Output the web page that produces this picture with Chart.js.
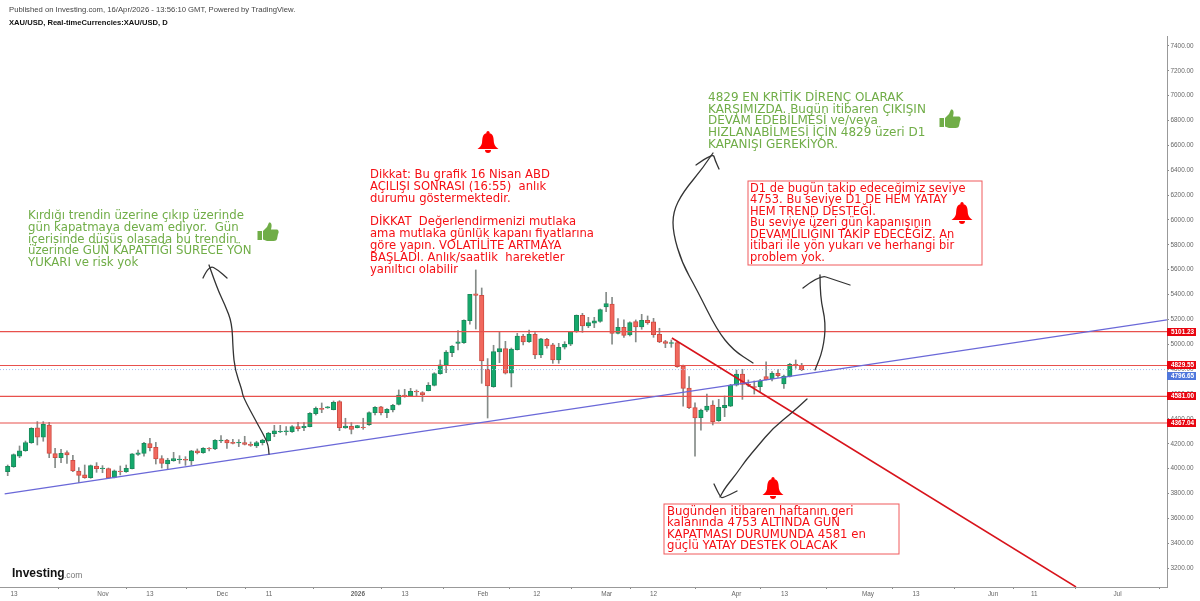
<!DOCTYPE html>
<html>
<head>
<meta charset="utf-8">
<title>XAU/USD</title>
<script src="https://cdn.jsdelivr.net/npm/chart.js@4"></script>
<style>
  html, body { margin: 0; padding: 0; background: #fff; }
  canvas { display: block; }
</style>
</head>
<body>
<canvas id="myChart" width="1200" height="601"></canvas>
<script>
// daily candles
var opens = [3975,4016,4101,4144,4209,4329,4252,4351,4120,4088,4128,4067,3981,3949,3927,4021,4000,4000,3930,3981,3975,4000,4115,4123,4201,4171,4080,4037,4064,4072,4075,4061,4142,4128,4163,4158,4222,4230,4211,4206,4209,4195,4182,4209,4225,4281,4295,4297,4297,4338,
  4330,4338,4442,4485,4488,4474,4539,4327,4340,4330,4335,4354,4450,4496,4450,4472,4517,4592,4587,4622,4611,4627,4670,4764,
  4831,4933,5008,5013,5190,5405,5394,4799,4659,4938,4965,4767,4957,5067,5021,5080,4914,5040,4995,4874,4976,5000,5102,5233,5147,5169,5185,5300,5324,5088,5137,5075,5182,5139,5193,5180,5080,5021,5008,5013,
  4825,4648,4490,4410,4471,4512,4386,4490,4503,4672,4761,4678,4659,4659,4740,4723,4766,4681,4742,4839,4831];
var highs = [4029,4118,4182,4222,4329,4378,4378,4372,4163,4155,4142,4107,4008,4029,4029,4048,4024,4005,3989,4021,4029,4120,4150,4211,4244,4211,4104,4083,4131,4104,4096,4147,4158,4169,4169,4233,4265,4236,4236,4233,4260,4214,4220,4236,4292,4348,4348,4338,4346,4372,
  4370,4450,4496,4528,4500,4544,4547,4405,4370,4348,4405,4456,4499,4501,4482,4517,4633,4638,4646,4633,4619,4692,4772,4874,
  4949,4989,5110,5196,5402,5598,5453,4885,4992,5102,5024,4970,5088,5080,5115,5094,5048,5048,5008,5008,5021,5102,5236,5249,5217,5217,5284,5418,5378,5206,5196,5180,5196,5241,5228,5209,5129,5032,5035,5021,
  4833,4740,4530,4479,4600,4546,4557,4584,4678,4793,4799,4713,4705,4718,4858,4780,4799,4753,4847,4874,4847];
var lows = [3943,4010,4088,4139,4203,4190,4220,4088,4008,4048,4042,3975,3887,3922,3922,3970,3967,3919,3925,3949,3970,3997,4107,4101,4142,4037,4005,3994,4059,4042,4026,4029,4118,4123,4142,4152,4209,4163,4198,4177,4190,4179,4169,4190,4220,4257,4289,4270,4292,4303,
  4305,4335,4431,4450,4485,4472,4305,4324,4279,4327,4316,4348,4431,4431,4410,4456,4512,4574,4584,4579,4541,4625,4665,4759,
  4772,4901,4954,5008,5161,5123,4686,4407,4654,4852,4761,4657,4954,4995,5016,4885,4893,4968,4847,4847,4962,4989,5096,5096,5134,5134,5177,5263,5000,5083,5056,5067,5019,5121,5161,5056,5013,4973,4976,4815,
  4503,4482,4101,4310,4458,4351,4380,4418,4498,4664,4557,4659,4600,4619,4713,4705,4734,4646,4737,4807,4788];
var closes = [4018,4112,4142,4209,4324,4252,4356,4123,4088,4123,4110,3981,3946,3927,4024,4000,4005,3925,3983,3975,4002,4118,4126,4203,4169,4077,4042,4069,4080,4077,4067,4142,4128,4163,4158,4228,4230,4206,4203,4211,4195,4187,4209,4230,4284,4303,4300,4303,4338,4321,
  4340,4445,4485,4477,4496,4533,4330,4343,4316,4346,4330,4450,4493,4450,4477,4509,4592,4587,4622,4617,4592,4670,4764,4834,
  4938,4986,5019,5193,5402,5394,4866,4665,4941,4965,4767,4962,5067,5019,5080,4914,5043,4986,4874,4976,5000,5102,5233,5147,5174,5188,5279,5327,5088,5137,5072,5174,5139,5193,5174,5078,5019,5008,5013,4820,
  4646,4490,4407,4471,4503,4377,4493,4509,4672,4761,4678,4672,4654,4707,4715,4766,4748,4745,4839,4831,4796];

var yTickValues = [3200,3400,3600,3800,4000,4200,4400,4600,4800,5000,5200,5400,5600,5800,6000,6200,6400,6600,6800,7000,7200,7400];
var xTickPositions = [2.06,17.08,25,37.2,45.1,60.1,68.05,81.2,90.3,102.1,110,124,132.1,146.2,154.3,167.3,174.25,188.3];
var xTickLabels = ["13","Nov","13","Dec","11","2026","13","Feb","12","Mar","12","Apr","13","May","13","Jun","11","Jul"];

var levelPrices = [5101.23, 4829.55, 4581.00, 4367.04];
var lastPrice = 4796.65;
var blueTrendX = [0.49, 196.66];
var blueTrendY = [3796, 5196];
var redTrendX = [113.1, 181.3];
var redTrendY = [5051, 3048];

var xMin = -0.3, xMax = 196.66;
var yMin = 3047.6, yMax = 7480;

var UP = "#14a96c", UP_EDGE = "#1b8a5c", DOWN = "#f1685d", DOWN_EDGE = "#cf4b43", WICK = "#858b88";

var candles = [], wicks = [], bodyColors = [], edgeColors = [];
for (var i = 0; i < opens.length; i++) {
  candles.push({ x: i + 1, y: [opens[i], closes[i]] });
  wicks.push({ x: i + 1, y: [lows[i], highs[i]] });
  bodyColors.push(closes[i] >= opens[i] ? UP : DOWN);
  edgeColors.push(closes[i] >= opens[i] ? UP_EDGE : DOWN_EDGE);
}

function hline(price, color, dash, width) {
  return {
    type: 'line', data: [{ x: xMin, y: price }, { x: xMax, y: price }],
    borderColor: color, borderWidth: width, borderDash: dash || [], pointRadius: 0, order: 1
  };
}

function trend(xs, ys, color, width) {
  return {
    type: 'line', data: [{ x: xs[0], y: ys[0] }, { x: xs[1], y: ys[1] }],
    borderColor: color, borderWidth: width, pointRadius: 0, order: 0
  };
}

var datasets = [
  { type: 'bar', data: wicks, backgroundColor: WICK, barThickness: 1, grouped: false, order: 4 },
  { type: 'bar', data: candles, backgroundColor: bodyColors, borderColor: edgeColors, borderWidth: 1,
    borderSkipped: false, barThickness: 4.5, grouped: false, order: 3 }
];
for (var k = 0; k < levelPrices.length; k++) {
  datasets.push(hline(levelPrices[k], "#e8504c", null, 1.2));
}
datasets.push(hline(lastPrice, "#a6bbf0", [1, 2], 1));
datasets.push(trend(blueTrendX, blueTrendY, "#6a68d8", 1.3));
datasets.push(trend(redTrendX, redTrendY, "#d8141c", 1.6));

// notes written on the chart
var RED_TEXT = "#f50f14", GREEN_TEXT = "#70ad47";
var notes = [
  { x: 28, y: 216, size: 11.75, step: 11.75, color: GREEN_TEXT, lines: ["Kırdığı trendin üzerine çıkıp üzerinde", "gün kapatmaya devam ediyor.  Gün", "içerisinde düşüş olasada bu trendin", "üzerinde GÜN KAPATTIĞI SÜRECE YÖN", "YUKARI ve risk yok"] },
  { x: 370, y: 175, size: 11.6, step: 11.85, color: RED_TEXT, lines: ["Dikkat: Bu grafik 16 Nisan ABD", "AÇILIŞI SONRASI (16:55)  anlık", "durumu göstermektedir.", "", "DİKKAT  Değerlendirmenizi mutlaka", "ama mutlaka günlük kapanı fiyatlarına", "göre yapın. VOLATİLİTE ARTMAYA", "BAŞLADI. Anlık/saatlik  hareketler", "yanıltıcı olabilir"] },
  { x: 708, y: 98, size: 12, step: 11.6, color: GREEN_TEXT, lines: ["4829 EN KRİTİK DİRENÇ OLARAK", "KARŞIMIZDA. Bugün itibaren ÇIKIŞIN", "DEVAM EDEBİLMESİ ve/veya", "HIZLANABİLMESİ İÇİN 4829 üzeri D1", "KAPANIŞI GEREKİYOR."] },
  { x: 750, y: 188.7, size: 11.45, step: 11.5, color: RED_TEXT, lines: ["D1 de bugün takip edeceğimiz seviye", "4753. Bu seviye D1 DE HEM YATAY", "HEM TREND DESTEĞİ.", "Bu seviye üzeri gün kapanışının", "DEVAMLILIĞINI TAKİP EDECEĞİZ. An", "itibari ile yön yukarı ve herhangi bir", "problem yok."] },
  { x: 667, y: 511.7, size: 11.7, step: 11.55, color: RED_TEXT, lines: ["Bugünden itibaren haftanın geri", "kalanında 4753 ALTINDA GÜN", "KAPATMASI DURUMUNDA 4581 en", "güçlü YATAY DESTEK OLACAK"] }
];

// freehand arrows: stroke, then the two wings of the head
var arrows = [
  [[[209,265],[217,288],[225,305],[232,323],[233,350],[235,370],[242,390],[243,397],[257,423],[268,443],[269,454]],
   [[203,278],[209,265],[218,270],[227,278]]],
  [[[713,153],[703,168],[683,192],[673,212],[673,233],[682,263],[697,290],[717,330],[733,350],[753,363]],
   [[696,165],[713,153],[715,160],[719,169]]],
  [[[820,275],[820,297],[826,323],[823,350],[815,370]],
   [[803,288],[820,275],[832,279],[850,285]]],
  [[[807,399],[793,412],[773,428],[757,447],[746,460],[737,473],[725,488],[720,497]],
   [[714,484],[720,497],[723,498],[737,491]]]
];

function smooth(ctx, pts) {
  ctx.beginPath();
  ctx.moveTo(pts[0][0], pts[0][1]);
  for (var i = 1; i < pts.length - 1; i++) {
    var mx = (pts[i][0] + pts[i + 1][0]) / 2, my = (pts[i][1] + pts[i + 1][1]) / 2;
    ctx.quadraticCurveTo(pts[i][0], pts[i][1], mx, my);
  }
  ctx.lineTo(pts[pts.length - 1][0], pts[pts.length - 1][1]);
  ctx.stroke();
}

function drawBell(ctx, cx, cy) {
  ctx.fillStyle = "#ff0000";
  ctx.beginPath();
  ctx.arc(cx, cy - 9.5, 1.6, 0, Math.PI * 2);
  ctx.fill();
  ctx.beginPath();
  ctx.moveTo(cx, cy - 9);
  ctx.bezierCurveTo(cx + 6, cy - 9, cx + 5.5, cy - 3, cx + 6, cy + 1);
  ctx.bezierCurveTo(cx + 6.5, cy + 4, cx + 9, cy + 6, cx + 10.5, cy + 7);
  ctx.lineTo(cx - 10.5, cy + 7);
  ctx.bezierCurveTo(cx - 9, cy + 6, cx - 6.5, cy + 4, cx - 6, cy + 1);
  ctx.bezierCurveTo(cx - 5.5, cy - 3, cx - 6, cy - 9, cx, cy - 9);
  ctx.fill();
  ctx.beginPath();
  ctx.arc(cx, cy + 8, 3, 0, Math.PI);
  ctx.fill();
}

function drawThumb(ctx, cx, cy) {
  ctx.fillStyle = "#70ad47";
  ctx.fillRect(cx - 10.5, cy - 1, 4.5, 9);
  ctx.beginPath();
  ctx.moveTo(cx - 5, cy - 1);
  ctx.lineTo(cx - 1, cy - 5);
  ctx.lineTo(cx + 1, cy - 9.5);
  ctx.bezierCurveTo(cx + 3, cy - 10, cx + 4.5, cy - 8, cx + 3, cy - 2.5);
  ctx.lineTo(cx + 9, cy - 2.5);
  ctx.bezierCurveTo(cx + 11, cy - 2, cx + 11, cy + 1, cx + 10, cy + 2);
  ctx.lineTo(cx + 9, cy + 7);
  ctx.bezierCurveTo(cx + 8.5, cy + 9, cx + 6, cy + 9, cx + 4, cy + 9);
  ctx.lineTo(cx - 1, cy + 9);
  ctx.lineTo(cx - 5, cy + 7.5);
  ctx.closePath();
  ctx.fill();
}

function drawFlag(ctx, chart, price, color, shift) {
  var y = Math.round(chart.scales.y.getPixelForValue(price)) + shift;
  ctx.fillStyle = color;
  ctx.fillRect(1167, y - 4, 29, 8);
  ctx.fillStyle = "#fff";
  ctx.font = "bold 6.4px 'Liberation Sans'";
  ctx.textAlign = "left";
  ctx.textBaseline = "middle";
  ctx.fillText(price.toFixed(2), 1171, y + 0.5);
}

var overlay = {
  id: 'overlay',
  afterDraw: function(chart) {
    var ctx = chart.ctx;
    ctx.save();

    for (var k = 0; k < levelPrices.length; k++) drawFlag(ctx, chart, levelPrices[k], "#e8040f", 0);
    // the last price flag sits just under the 4829 flag in the reference
    drawFlag(ctx, chart, lastPrice, "#4f77dc", 6);

    ctx.textAlign = "left";
    ctx.textBaseline = "middle";
    ctx.fillStyle = "#444";
    ctx.font = "7.7px 'Liberation Sans'";
    ctx.fillText("Published on Investing.com, 16/Apr/2026 - 13:56:10 GMT, Powered by TradingView.", 9, 10);
    ctx.fillStyle = "#111";
    ctx.font = "bold 7.6px 'Liberation Sans'";
    ctx.fillText("XAU/USD, Real-timeCurrencies:XAU/USD, D", 9, 23);

    ctx.fillStyle = "#111";
    ctx.font = "bold 12px 'Liberation Sans'";
    ctx.fillText("Investing", 12, 574);
    ctx.fillStyle = "#777";
    ctx.font = "8.5px 'Liberation Sans'";
    ctx.fillText(".com", 64, 576);

    ctx.strokeStyle = "#f05a5c";
    ctx.lineWidth = 1;
    ctx.strokeRect(748, 181, 234, 84);
    ctx.strokeRect(664, 504, 235, 50);

    notes.forEach(function(note) {
      ctx.font = note.size + "px 'DejaVu Sans'";
      ctx.fillStyle = note.color;
      note.lines.forEach(function(line, n) {
        ctx.fillText(line, note.x, note.y + n * note.step);
      });
    });

    ctx.strokeStyle = "#333";
    ctx.lineWidth = 1.3;
    ctx.lineCap = "round";
    arrows.forEach(function(a) {
      smooth(ctx, a[0]);
      smooth(ctx, a[1]);
    });

    drawBell(ctx, 488, 142);
    drawBell(ctx, 962, 213);
    drawBell(ctx, 773, 488);
    drawThumb(ctx, 268, 232);
    drawThumb(ctx, 950, 119);
    ctx.restore();
  }
};

var ctx = document.getElementById("myChart").getContext("2d");
var myChart = new Chart(ctx, {
  data: { datasets: datasets },
  plugins: [overlay],
  options: {
    responsive: false,
    animation: false,
    layout: { padding: { top: 36, left: 0, right: 0, bottom: 0 } },
    plugins: { legend: { display: false }, tooltip: { enabled: false } },
    scales: {
      x: {
        type: 'linear', min: xMin, max: xMax, offset: false,
        grid: { drawOnChartArea: false, drawTicks: true, tickLength: 2, color: "#888" },
        border: { color: "#999", width: 1 },
        afterBuildTicks: function(scale) {
          scale.ticks = xTickPositions.map(function(v) { return { value: v }; });
        },
        afterFit: function(scale) { scale.height = 14; },
        ticks: {
          autoSkip: false, maxRotation: 0, padding: 1, color: "#666",
          font: function(c) {
            return { family: "'Liberation Sans'", size: 6.4, weight: xTickLabels[c.index] === "2026" ? "bold" : "normal" };
          },
          callback: function(value, index) { return xTickLabels[index]; }
        }
      },
      y: {
        type: 'linear', position: 'right', min: yMin, max: yMax,
        grid: { drawOnChartArea: false, drawTicks: true, tickLength: 2, color: "#888" },
        border: { color: "#999", width: 1 },
        afterBuildTicks: function(scale) {
          scale.ticks = yTickValues.map(function(v) { return { value: v }; });
        },
        afterFit: function(scale) { scale.width = 33; },
        ticks: {
          padding: 1.5, color: "#666",
          font: { family: "'Liberation Sans'", size: 6.4 },
          callback: function(value) { return value.toFixed(2); }
        }
      }
    }
  }
});
</script>
</body>
</html>
